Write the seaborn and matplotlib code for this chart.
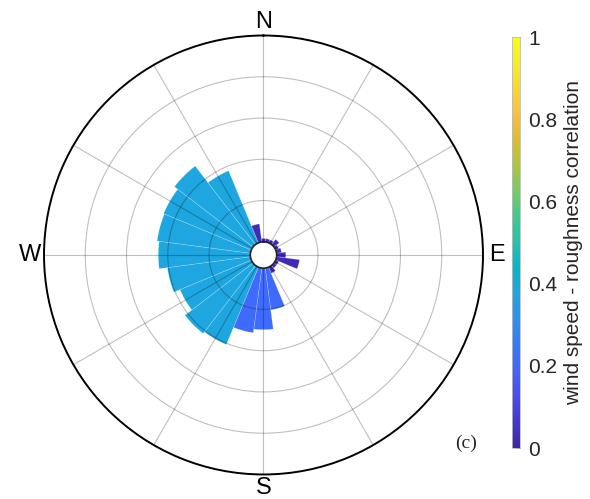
import numpy as np
import matplotlib
matplotlib.use("Agg")
import matplotlib.pyplot as plt
import seaborn as sns
from matplotlib.colors import LinearSegmentedColormap, Normalize
from matplotlib.cm import ScalarMappable

# ---- data ----
directions_deg = [0, 15, 30, 45, 60, 75, 90, 105, 120, 135, 150, 165,
                  180, 195, 210, 225, 240, 255, 270, 285, 300, 315, 330, 345]
frequency = [0.08, 0.08, 0.08, 0.16, 0.08, 0.12, 0.22, 0.56, 0.08, 0.08, 0.16, 1.02,
             1.49, 1.58, 2.03, 2.08, 1.87, 2.03, 2.23, 2.28, 2.30, 2.40, 1.89, 0.44]
correlation = [0.02, 0.02, 0.02, 0.02, 0.02, 0.02, 0.02, 0.02, 0.02, 0.02, 0.02, 0.21,
               0.21, 0.21, 0.38, 0.38, 0.38, 0.38, 0.38, 0.38, 0.38, 0.38, 0.38, 0.02]
compass_labels = ["N", "E", "S", "W"]
cbar_ticks = [0, 0.2, 0.4, 0.6, 0.8, 1.0]
cbar_ticklabels = ["0", "0.2", "0.4", "0.6", "0.8", "1"]
cbar_label = "wind speed - roughness correlation"
panel_label = "(c)"

# ---- parula-like colormap ----
parula_pts = [
    (0.2422, 0.1504, 0.6603), (0.2706, 0.2147, 0.8364), (0.2813, 0.3006, 0.9414),
    (0.2699, 0.3892, 0.9906), (0.1963, 0.4847, 0.9892), (0.1687, 0.5703, 0.9359),
    (0.1248, 0.6459, 0.8883), (0.0036, 0.7203, 0.7917), (0.1408, 0.7584, 0.6842),
    (0.2470, 0.7918, 0.5567), (0.4456, 0.8024, 0.3909), (0.6720, 0.7793, 0.2227),
    (0.8634, 0.7406, 0.1596), (0.9956, 0.7434, 0.2371), (0.9786, 0.8386, 0.1766),
    (0.9628, 0.9373, 0.1265), (0.9769, 0.9839, 0.0805)]
parula = LinearSegmentedColormap.from_list("parula", parula_pts, N=256)
norm = Normalize(0, 1)

sns.set_theme(style="white")
plt.rcParams["font.family"] = ["Liberation Sans", "DejaVu Sans"]

fig = plt.figure(figsize=(5.90, 4.99), dpi=100)
ax = fig.add_axes([0.0746, 0.0491, 0.744, 0.8798], projection="polar")
ax.set_theta_zero_location("N")
ax.set_theta_direction(-1)

theta = np.deg2rad(directions_deg)
width = np.deg2rad(15)
colors = [parula(norm(c)) for c in correlation]
ax.bar(theta, frequency, width=width, bottom=0, color=colors,
       edgecolor=(1, 1, 1, 0.25), linewidth=0.5, zorder=1)

ax.set_ylim(0, 5)
ax.set_rorigin(-0.32)
ax.set_yticks([1, 2, 3, 4])
ax.set_yticklabels([])
ax.set_xticks(np.deg2rad(np.arange(0, 360, 30)))
lbls = [""] * 12
lbls[0], lbls[3], lbls[6], lbls[9] = compass_labels
ax.set_xticklabels(lbls, fontsize=17, color="black")
ax.tick_params(axis="x", pad=-3)
ax.set_axisbelow(False)
ax.grid(True, color="black", alpha=0.25, linewidth=0.8)
ax.spines["polar"].set_color("black")
ax.spines["polar"].set_linewidth(1.4)
ax.set_facecolor("white")

cax = fig.add_axes([0.867, 0.1022, 0.0144, 0.8236])
cb = fig.colorbar(ScalarMappable(norm=norm, cmap=parula), cax=cax)
cb.set_ticks(cbar_ticks)
cb.set_ticklabels(cbar_ticklabels)
cb.ax.tick_params(labelsize=15, direction="in", length=3, width=0.6,
                  color="#444444", pad=6)
cb.outline.set_edgecolor("#bbbbbb")
cb.outline.set_linewidth(0.6)
cb.set_label(cbar_label, fontsize=15, labelpad=5)

fig.text(0.790, 0.112, panel_label, fontsize=14, family="Liberation Serif",
         ha="center", va="center")

fig.savefig("out.png", dpi=100, facecolor="white")
